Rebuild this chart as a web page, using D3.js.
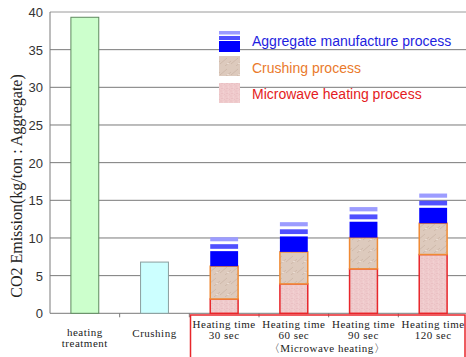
<!DOCTYPE html>
<html><head><meta charset="utf-8">
<script src="https://cdn.jsdelivr.net/npm/d3@7"></script>
<style>html,body{margin:0;padding:0;background:#fff;}svg{display:block;}</style>
</head><body>
<script>
// ---- data ----
const categories = ["heating treatment", "Crushing", "Heating time 30 sec", "Heating time 60 sec", "Heating time 90 sec", "Heating time 120 sec"];
const categoryLabelLines = [["heating", "treatment"], ["Crushing"], ["Heating time", "30 sec"], ["Heating time", "60 sec"], ["Heating time", "90 sec"], ["Heating time", "120 sec"]];
const singleCategories = ["heating treatment", "Crushing"];
const singleValues = [39.3, 6.8];
const stackCategories = ["Heating time 30 sec", "Heating time 60 sec", "Heating time 90 sec", "Heating time 120 sec"];
const microwaveValues = [1.9, 3.9, 5.9, 7.8];
const crushingValues = [4.35, 4.25, 4.15, 4.15];
const aggregateValues = [3.85, 3.95, 4.05, 3.95];
const yTicks = [0, 5, 10, 15, 20, 25, 30, 35, 40];
const legendLabels = ["Aggregate manufacture process", "Crushing process", "Microwave heating process"];
const groupLabel = "〈Microwave heating〉";
const yTitle = "CO2 Emission(kg/ton : Aggregate)";

// ---- layout ----
const W = 466, H = 357;
const pLeft = 50, pRight = 468, pTop = 12, pBottom = 313.3;
const svg = d3.select("body").append("svg").attr("width", W).attr("height", H);

const x = d3.scaleBand().domain(categories).range([pLeft, pRight]).paddingInner(0.6).paddingOuter(0.3);
const y = d3.scaleLinear().domain([0, 40]).range([pBottom, pTop]);

// patterns
const defs = svg.append("defs");
const pm = defs.append("pattern").attr("id", "pMicro").attr("patternUnits", "userSpaceOnUse").attr("width", 5).attr("height", 5);
pm.append("rect").attr("width", 5).attr("height", 5).attr("fill", "#efcacc");
[[0.5,0.5,"#e7bbbe"],[3,1.5,"#f5d9d9"],[1.5,3,"#e5b6ba"],[4,4,"#eac0c3"],[2.5,4.5,"#f4d6d6"]].forEach(d => pm.append("rect").attr("x", d[0]).attr("y", d[1]).attr("width", 1).attr("height", 1).attr("fill", d[2]));
const pc = defs.append("pattern").attr("id", "pCrush").attr("patternUnits", "userSpaceOnUse").attr("width", 11).attr("height", 11);
pc.append("rect").attr("width", 11).attr("height", 11).attr("fill", "#ddcabd");
pc.append("path").attr("d", "M0,9 L7,3 M5,11 L11,6").attr("stroke", "#c7b1a2").attr("stroke-width", 0.7).attr("fill", "none");
pc.append("rect").attr("x", 7).attr("y", 8).attr("width", 2).attr("height", 1).attr("fill", "#e9dbd1");

// gridlines
svg.append("g").selectAll("line").data(yTicks).join("line")
  .attr("x1", pLeft).attr("x2", pRight).attr("y1", d => y(d)).attr("y2", d => y(d))
  .attr("stroke", d => d === 40 ? "#9a9a9a" : "#7a7a7a").attr("stroke-width", 1);
// left axis
svg.append("line").attr("x1", pLeft).attr("x2", pLeft).attr("y1", pTop).attr("y2", pBottom).attr("stroke", "#7a7a7a");
// y tick labels
svg.append("g").selectAll("text").data(yTicks).join("text")
  .attr("x", 43).attr("y", d => y(d) + 5).attr("text-anchor", "end")
  .attr("font-family", "Liberation Sans, Arial, sans-serif").attr("font-size", 13).attr("fill", "#333")
  .text(d => d);
// x ticks between categories
const step = x.step();
svg.append("g").selectAll("line").data(d3.range(1, categories.length)).join("line")
  .attr("x1", d => pLeft + d * step).attr("x2", d => pLeft + d * step)
  .attr("y1", pBottom).attr("y2", pBottom + 4).attr("stroke", "#7a7a7a");

// single bars
const singleFill = ["#ccffcc", "#ccffff"], singleStroke = ["#5f8a5f", "#8a9e9e"];
svg.append("g").selectAll("rect").data(singleCategories).join("rect")
  .attr("x", d => x(d)).attr("width", x.bandwidth())
  .attr("y", (d, i) => y(singleValues[i])).attr("height", (d, i) => y(0) - y(singleValues[i]))
  .attr("fill", (d, i) => singleFill[i]).attr("stroke", (d, i) => singleStroke[i]).attr("stroke-width", 1);

// stacked bars
const sg = svg.append("g");
stackCategories.forEach((c, i) => {
  const bx = x(c), bw = x.bandwidth();
  const m = microwaveValues[i], cr = crushingValues[i], ag = aggregateValues[i];
  sg.append("rect").attr("x", bx).attr("width", bw).attr("y", y(m)).attr("height", y(0) - y(m))
    .attr("fill", "url(#pMicro)").attr("stroke", "#e8262b").attr("stroke-width", 1.5);
  sg.append("rect").attr("x", bx).attr("width", bw).attr("y", y(m + cr)).attr("height", y(m) - y(m + cr))
    .attr("fill", "url(#pCrush)").attr("stroke", "#f08a34").attr("stroke-width", 1.5);
  const base = m + cr;
  const parts = [[0, 0.52, "#0000ff"], [0.6, 0.76, "#5050ff"], [0.86, 1.0, "#9c9cff"]];
  parts.forEach(p => {
    sg.append("rect").attr("x", bx).attr("width", bw)
      .attr("y", y(base + ag * p[1])).attr("height", y(base + ag * p[0]) - y(base + ag * p[1]))
      .attr("fill", p[2]);
  });
});

// red group box
svg.append("rect").attr("x", 190.5).attr("y", 315).attr("width", 274.5).attr("height", 50)
  .attr("fill", "none").attr("stroke", "#e8262b").attr("stroke-width", 1.5);

// x labels
const xl = svg.append("g").attr("font-family", "Liberation Serif, Times New Roman, serif").attr("font-size", 11).attr("letter-spacing", 0.5).attr("fill", "#222").attr("text-anchor", "middle");
categories.forEach((c, i) => {
  const lines = categoryLabelLines[i];
  const cx = x(c) + x.bandwidth() / 2;
  const y0 = i < 2 ? (lines.length === 1 ? 337 : 335.5) : 327.5;
  lines.forEach((t, j) => xl.append("text").attr("x", cx).attr("y", y0 + j * 11.5).text(t));
});
xl.append("text").attr("x", 327).attr("y", 351.5).text(groupLabel);

// y title
svg.append("text").attr("transform", "translate(22,186) rotate(-90)").attr("text-anchor", "middle")
  .attr("font-family", "Liberation Serif, Times New Roman, serif").attr("font-size", 16).attr("fill", "#222")
  .text(yTitle);

// legend
const lg = svg.append("g");
const lx = 219, lw = 21;
[[31, 34.5, "#9c9cff"], [36, 40, "#5050ff"], [41, 52, "#0000ff"]].forEach(p =>
  lg.append("rect").attr("x", lx).attr("y", p[0]).attr("width", lw).attr("height", p[1] - p[0]).attr("fill", p[2]));
lg.append("rect").attr("x", lx).attr("y", 56).attr("width", lw).attr("height", 20).attr("fill", "url(#pCrush)");
lg.append("rect").attr("x", lx).attr("y", 83).attr("width", lw).attr("height", 20).attr("fill", "url(#pMicro)");
const legendColors = ["#1e1ee0", "#ea7a2c", "#e41b22"];
const legendY = [46, 72.5, 98.5];
lg.selectAll("text").data(legendLabels).join("text")
  .attr("x", 252).attr("y", (d, i) => legendY[i])
  .attr("font-family", "Liberation Sans, Arial, sans-serif").attr("font-size", 14)
  .attr("fill", (d, i) => legendColors[i]).text(d => d);
</script>
</body></html>
